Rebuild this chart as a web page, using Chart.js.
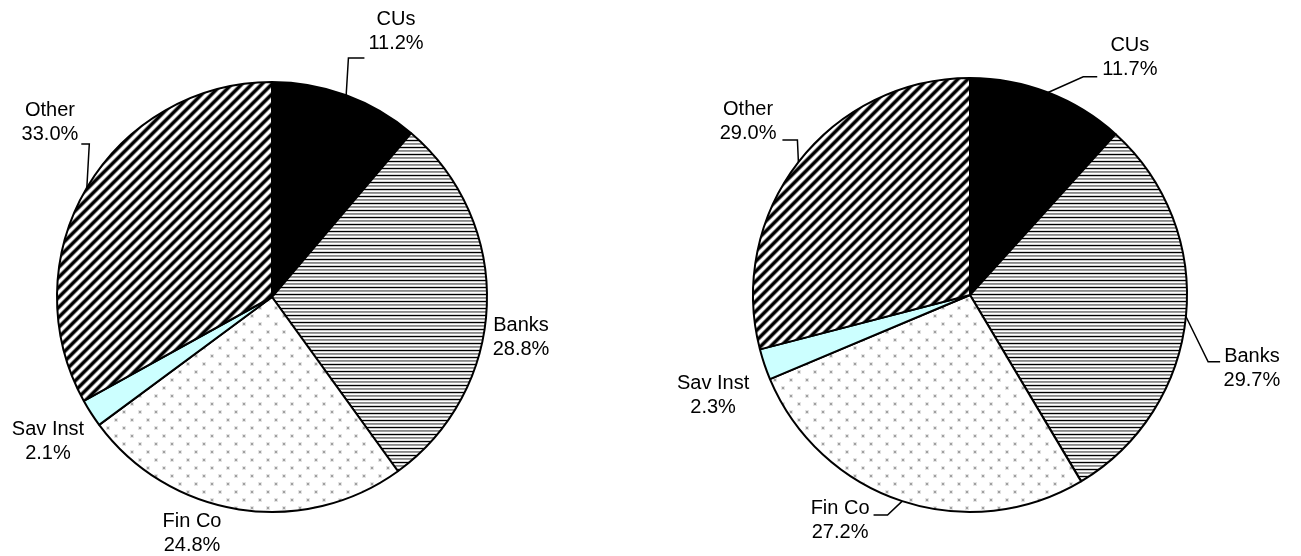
<!DOCTYPE html>
<html>
<head>
<meta charset="utf-8">
<script src="https://cdn.jsdelivr.net/npm/chart.js@4/dist/chart.umd.min.js"></script>
<style>
  html, body { margin: 0; padding: 0; background: #fff; }
  body { width: 1301px; height: 556px; position: relative; overflow: hidden; }
  canvas { position: absolute; top: 0; }
  #pieLeft { left: 0; }
  #pieRight { left: 651px; }
</style>
</head>
<body>
<canvas id="pieLeft" width="650" height="556"></canvas>
<canvas id="pieRight" width="650" height="556"></canvas>
<script>
const categories = ['CUs', 'Banks', 'Fin Co', 'Sav Inst', 'Other'];
const sharesLeft = [11.2, 28.8, 24.8, 2.1, 33.0];
const sharesRight = [11.7, 29.7, 27.2, 2.3, 29.0];

const FONT = '20px "Liberation Sans", Arial, sans-serif';
const LINE_H = 24;

// Fill patterns built on small offscreen tiles
function makeTile(w, h, paint) {
    const c = document.createElement('canvas');
    c.width = w;
    c.height = h;
    const g = c.getContext('2d');
    paint(g, w, h);
    return g.createPattern(c, 'repeat');
}

const hStripes = makeTile(4, 7, (g, w) => {
    const rows = ['#000', '#c8c8c8', '#fff', '#8a8a8a', '#9c9c9c', '#fff', '#d4d4d4'];
    rows.forEach((col, y) => { g.fillStyle = col; g.fillRect(0, y, w, 1); });
});

const diagStripes = makeTile(10, 10, (g, w, h) => {
    const img = g.createImageData(w, h);
    for (let y = 0; y < h; y++) {
        for (let x = 0; x < w; x++) {
            const v = 0.5 + 0.5 * Math.cos(2 * Math.PI * (x + y) / 10);
            const c = Math.round(255 * Math.min(1, Math.max(0, (v - 0.5) * 1.4 + 0.5)));
            const k = (y * w + x) * 4;
            img.data[k] = img.data[k + 1] = img.data[k + 2] = c;
            img.data[k + 3] = 255;
        }
    }
    g.putImageData(img, 0, 0);
});

const dots = makeTile(16, 16, (g, w, h) => {
    g.fillStyle = '#fff';
    g.fillRect(0, 0, w, h);
    [[3, 3], [11, 11]].forEach(([x, y]) => {
        g.fillStyle = '#e4e4e4';
        g.fillRect(x - 1, y - 1, 4, 4);
        g.fillStyle = '#a0a0a0';
        g.fillRect(x, y, 2, 2);
    });
});

const fills = ['#000', hStripes, dots, '#ccffff', diagStripes];

// Label placement per slice: dist = multiple of radius, shift = degrees off the slice middle.
// Leaders run from the arc middle to an elbow, then a short hook toward the text.
const placeLeft = [
    { dist: 1.361, shift: 4.9, leader: { side: 'right', line: 1, hook: 16, gap: 4, dy: 14 } },
    { dist: 1.173, shift: 6.9 },
    { dist: 1.159, shift: 9.9 },
    { dist: 1.241, shift: -0.2 },
    { dist: 1.315, shift: 7.7, leader: { side: 'left', line: 1, hook: 8, gap: 3, dy: 10 } }
];
const placeRight = [
    { dist: 1.318, shift: 12.9, leader: { side: 'right', line: 1, hook: 14, gap: 5, dy: 7 } },
    { dist: 1.343, shift: 9.0, leader: { side: 'right', line: 0, hook: 12, gap: 4, dy: 5 } },
    { dist: 1.201, shift: 11.7, leader: { side: 'left', line: 0, hook: 14, gap: 4, dy: 6 } },
    { dist: 1.272, shift: -2.8 },
    { dist: 1.297, shift: 0.2, leader: { side: 'left', line: 1, hook: 15, gap: 6, dy: 6 } }
];

function calloutPlugin(place) {
    return {
        id: 'callouts',
        afterDatasetsDraw(chart) {
            const ctx = chart.ctx;
            const values = chart.data.datasets[0].data;
            ctx.save();
            ctx.font = FONT;
            ctx.fillStyle = '#000';
            ctx.strokeStyle = '#000';
            ctx.lineWidth = 1.5;
            ctx.textAlign = 'center';
            ctx.textBaseline = 'middle';
            chart.getDatasetMeta(0).data.forEach((arc, i) => {
                const p = arc.getProps(['x', 'y', 'startAngle', 'endAngle', 'outerRadius'], true);
                const mid = (p.startAngle + p.endAngle) / 2;
                const pl = place[i];
                const a = mid + pl.shift * Math.PI / 180;
                const tx = p.x + Math.cos(a) * p.outerRadius * pl.dist;
                const ty = p.y + Math.sin(a) * p.outerRadius * pl.dist;
                const lines = [chart.data.labels[i], values[i].toFixed(1) + '%'];
                lines.forEach((t, k) => ctx.fillText(t, tx, ty + (k - 0.5) * LINE_H));

                if (pl.leader) {
                    const ld = pl.leader;
                    const ly = ty + (ld.line - 0.5) * LINE_H + ld.dy;
                    const w = ctx.measureText(lines[ld.line]).width;
                    const edge = ld.side === 'right' ? tx - w / 2 - ld.gap : tx + w / 2 + ld.gap;
                    const elbow = ld.side === 'right' ? edge - ld.hook : edge + ld.hook;
                    ctx.beginPath();
                    ctx.moveTo(p.x + Math.cos(mid) * p.outerRadius, p.y + Math.sin(mid) * p.outerRadius);
                    ctx.lineTo(elbow, ly);
                    ctx.lineTo(edge, ly);
                    ctx.stroke();
                }
            });
            ctx.restore();
        }
    };
}

function drawPie(id, shares, radius, padding, place) {
    new Chart(document.getElementById(id), {
        type: 'pie',
        data: {
            labels: categories,
            datasets: [{
                data: shares,
                backgroundColor: fills,
                borderColor: '#000',
                borderWidth: 2,
                radius: radius
            }]
        },
        options: {
            responsive: false,
            animation: false,
            events: [],
            layout: { padding: padding },
            plugins: {
                legend: { display: false },
                tooltip: { enabled: false }
            }
        },
        plugins: [calloutPlugin(place)]
    });
}

drawPie('pieLeft', sharesLeft, 215, { left: 0, right: 106, top: 38, bottom: 0 }, placeLeft);
drawPie('pieRight', sharesRight, 217, { left: 0, right: 12, top: 34, bottom: 0 }, placeRight);
</script>
</body>
</html>
